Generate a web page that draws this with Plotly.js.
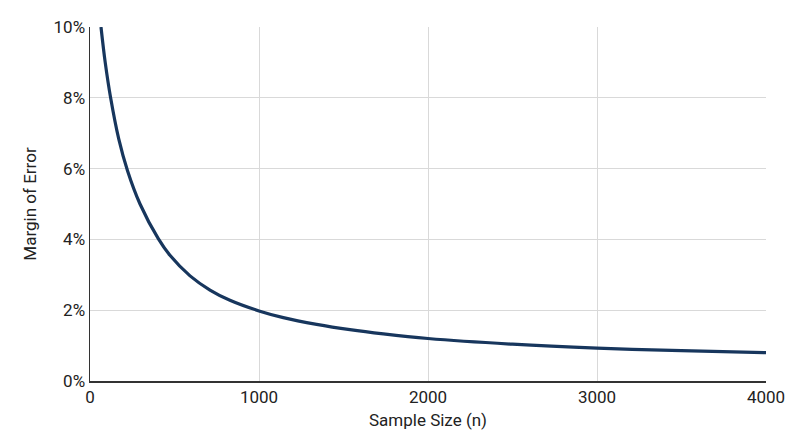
<!DOCTYPE html>
<html>
<head>
<meta charset="utf-8">
<script src="https://cdn.plot.ly/plotly-3.0.1.min.js"></script>
<style>
  html, body { margin: 0; padding: 0; background: #fff; }
  #myDiv { width: 800px; height: 447px; }
</style>
</head>
<body>
<div id="myDiv"></div>
<script>
// sample size n
let sampleSize = [65, 90, 122, 170, 222, 296, 404, 473, 592, 710, 828, 1000, 1144, 1341, 1538, 1736, 2000, 2500, 3000, 3500, 4000];
// margin of error in percent
let marginOfError = [10.0, 9.0, 8.0, 6.84, 5.94, 5.0, 4.02, 3.55, 2.97, 2.57, 2.28, 1.98, 1.79, 1.6, 1.45, 1.33, 1.2, 1.04, 0.93, 0.856, 0.8];

let xTicks = [0, 1000, 2000, 3000, 4000];
let yTicks = [0, 2, 4, 6, 8, 10];

let trace1 = {
    x: sampleSize,
    y: marginOfError,
    mode: 'lines',
    type: 'scatter',
    line: { color: '#17365d', width: 3.2, shape: 'spline', smoothing: 1 },
    hoverinfo: 'skip'
};

let layout = {
    width: 800,
    height: 447,
    margin: { l: 90, r: 34, t: 27, b: 66 },
    paper_bgcolor: '#ffffff',
    plot_bgcolor: '#ffffff',
    showlegend: false,
    font: { family: 'Roboto, sans-serif', size: 17, color: '#222222' },
    xaxis: {
        range: [0, 4000],
        tickvals: xTicks,
        ticktext: xTicks.map(v => String(v)),
        showgrid: true,
        gridcolor: '#d9d9d9',
        gridwidth: 1,
        zeroline: false,
        showline: true,
        linecolor: '#333333',
        linewidth: 1.5,
        ticks: '',
        tickfont: { size: 17 },
        title: { text: 'Sample Size (n)', font: { size: 17 }, standoff: 8 }
    },
    yaxis: {
        range: [0, 10],
        tickvals: yTicks,
        ticktext: yTicks.map(v => v + '%'),
        showgrid: true,
        gridcolor: '#d9d9d9',
        gridwidth: 1,
        zeroline: false,
        showline: true,
        linecolor: '#333333',
        linewidth: 1.5,
        ticks: '',
        tickfont: { size: 17 },
        title: { text: 'Margin of Error', font: { size: 17 }, standoff: 12 }
    }
};

Plotly.newPlot('myDiv', [trace1], layout, { staticPlot: true, displayModeBar: false });
</script>
</body>
</html>
